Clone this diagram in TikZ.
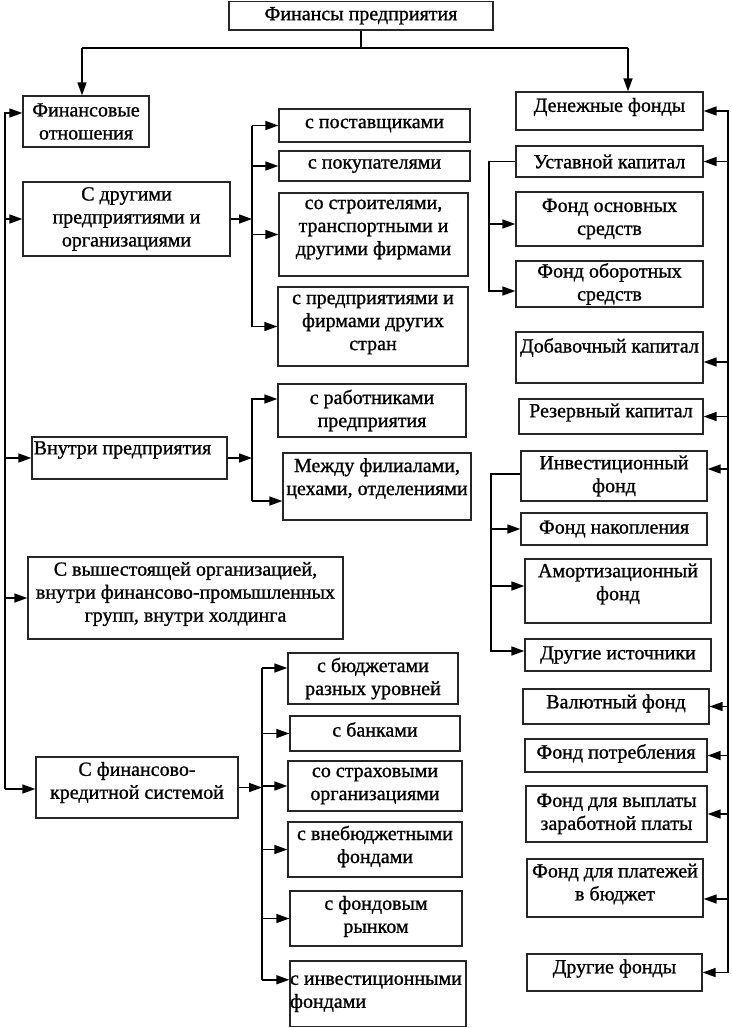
\documentclass[tikz,border=0pt]{standalone}
\usepackage{fontspec}
\setmainfont{Liberation Serif}[FakeBold=1]
\usetikzlibrary{arrows.meta,calc}
\tikzset{
  bxs/.style={draw=black!85, line width=1.3pt, inner sep=0pt},
  txt/.style={font=\fontsize{20}{23}\selectfont, align=center, inner sep=0pt},
  ln/.style={line width=1.6pt},
  arr/.style={ln, -{Triangle[length=13pt,width=9pt]}},
}
% #1 text options, #2 name, #3 x1, #4 y1, #5 x2, #6 y2, #7 text
\newcommand\bx[7][]{%
  \node[bxs,minimum width={#5-#3},minimum height={#6-#4}] (#2) at ({(#3+#5)/2},{(#4+#6)/2}) {};
  \node[txt,#1] at (#2.center) {#7};
}
\begin{document}
\begin{tikzpicture}[x=1pt,y=-1pt]
\fill[white] (0,0) rectangle (731,1028);
\useasboundingbox (0,0) rectangle (731,1028);

% ---------- boxes ----------
\bx{top}{229}{1.5}{493}{30}{Финансы предприятия}
\bx{fo}{23}{96}{149}{147}{Финансовые\\отношения}
\bx{dr}{23}{182}{230}{256}{С другими\\предприятиями и\\организациями}
\bx{p1}{279}{109}{470}{142}{с поставщиками}
\bx{p2}{279}{151}{470}{181}{с покупателями}
\bx[yshift=5pt]{p3}{279}{193}{468}{276}{со строителями,\\транспортными и\\другими фирмами}
\bx[yshift=2pt]{p4}{278}{287}{468}{366}{с предприятиями и\\фирмами других\\стран}
\bx{r1}{278}{384}{466}{437}{с работниками\\предприятия}
\bx[yshift=8pt]{r2}{283}{453}{471}{520}{Между филиалами,\\цехами, отделениями}
\bx[yshift=8pt,xshift=-7pt]{vn}{32}{437}{227}{479}{Внутри предприятия}
\bx[yshift=4pt]{vs}{28}{557}{343}{639}{С вышестоящей организацией,\\внутри финансово-промышленных\\групп, внутри холдинга}
\bx[yshift=5pt]{fk}{36}{757}{238}{818}{С финансово-\\кредитной системой}
\bx{b1}{288}{653}{458}{704}{с бюджетами\\разных уровней}
\bx[yshift=4pt]{b2}{290}{716}{460}{751}{с банками}
\bx{b3}{288}{761}{462}{811}{со страховыми\\организациями}
\bx[yshift=3pt]{b4}{288}{822}{462}{877}{с внебюджетными\\фондами}
\bx[yshift=2pt]{b5}{290}{891}{462}{946}{с фондовым\\рынком}
\bx[align=left,xshift=-2pt]{b6}{290}{961}{466}{1026.5}{с инвестиционными\\фондами}

\bx[yshift=4pt]{df}{516}{92}{703}{130}{Денежные фонды}
\bx{uk}{516}{146}{703}{177}{Уставной капитал}
\bx{fos}{516}{192}{703}{246}{Фонд основных\\средств}
\bx{fob}{516}{261}{703}{307}{Фонд оборотных\\средств}
\bx[yshift=10pt]{dk}{516}{332}{703}{383}{Добавочный капитал}
\bx[yshift=4pt]{rk}{519}{399}{703}{434}{Резервный капитал}
\bx{inv}{521}{451}{707}{501}{Инвестиционный\\фонд}
\bx{fn}{521}{513}{707}{545}{Фонд накопления}
\bx[yshift=7pt]{am}{525}{559}{711}{623}{Амортизационный\\фонд}
\bx{di}{525}{639}{711}{671}{Другие источники}
\bx[yshift=3pt]{vf}{523}{689}{709}{724}{Валютный фонд}
\bx[yshift=2pt]{fp}{525}{739}{707}{772}{Фонд потребления}
\bx{fvz}{526}{786}{707}{842}{Фонд для выплаты\\заработной платы}
\bx[yshift=4pt]{fpb}{527}{859}{703}{917}{Фонд для платежей\\в бюджет}
\bx[yshift=4pt]{drf}{527}{954}{702}{991}{Другие фонды}

% ---------- top split ----------
\coordinate (hL) at (82,48);
\coordinate (hR) at (628,48);
\draw[ln] (top.south) -- (top.south |- hL);
\draw[ln] (hL) -- (hR);
\draw[arr] (hL) -- (hL |- fo.north);
\draw[arr] (hR) -- (hR |- df.north);

% ---------- left spine ----------
\coordinate (sA) at (5,113);
\coordinate (sB) at (5,789);
\draw[arr] (sB) -- (sA) -- (sA -| fo.west);
\draw[arr] (sA |- dr.west) -- (dr.west);
\draw[arr] (sA |- vn.west) -- (vn.west);
\draw[arr] (sA |- vs.west) -- (vs.west);
\draw[arr] (sA |- sB) -- (sB -| fk.west);

% ---------- bus for dr ----------
\coordinate (bA) at (252,0);
\draw[arr] (dr.east) -- (dr.east -| bA);
\draw[ln] (bA |- p1) -- (bA |- p4);
\foreach \n in {p1,p2,p3,p4} \draw[arr] (bA |- \n) -- (\n.west);

% ---------- bus for vn ----------
\coordinate (r1a) at ([yshift=11.5pt]r1.west);
\coordinate (r2a) at ([yshift=-14.5pt]r2.west);
\draw[arr] (vn.east) -- (vn.east -| bA);
\draw[arr] (bA |- r2a) -- (bA |- r1a) -- (r1a);
\draw[arr] (bA |- r2a) -- (r2a);

% ---------- bus for fk ----------
\coordinate (bC) at (262,0);
\coordinate (b1a) at ([yshift=10.5pt]b1.west);
\coordinate (b6a) at ([yshift=14pt]b6.west);
\draw[ln] (bC |- b1a) -- (bC |- b6a);
\draw[arr] (fk.east) -- (fk.east -| bC);
\draw[arr] (bC |- b1a) -- (b1a);
\foreach \n in {b2,b3,b4,b5} \draw[arr] (bC |- \n) -- (\n.west);
\draw[arr] (bC |- b6a) -- (b6a);

% ---------- right spine ----------
\coordinate (sR) at (728,0);
\coordinate (inva) at ([yshift=7pt]inv.east);
\coordinate (dka) at ([yshift=-4.5pt]dk.east);
\coordinate (fpba) at ([yshift=-11pt]fpb.east);
\draw[arr] (sR |- drf) -- (sR |- df) -- (df.east);
\foreach \n in {uk,rk,vf,fp,fvz,drf} \draw[arr] (sR |- \n) -- (\n.east);
\draw[arr] (sR |- inva) -- (inva);
\draw[arr] (sR |- dka) -- (dka);
\draw[arr] (sR |- fpba) -- (fpba);

% ---------- bracket for uk ----------
\coordinate (kU) at (489,0);
\coordinate (fosa) at ([yshift=-5pt]fos.west);
\coordinate (foba) at ([yshift=-7pt]fob.west);
\draw[arr] (uk.west) -- (uk.west -| kU) -- (kU |- foba) -- (foba);
\draw[arr] (kU |- fosa) -- (fosa);

% ---------- bracket for inv ----------
\coordinate (kI) at (491,0);
\coordinate (invb) at ([yshift=2pt]inv.west);
\coordinate (ama) at ([yshift=5pt]am.west);
\coordinate (dia) at ([yshift=4pt]di.west);
\draw[arr] (invb) -- (invb -| kI) -- (kI |- dia) -- (dia);
\draw[arr] (kI |- fn) -- (fn.west);
\draw[arr] (kI |- ama) -- (ama);
\end{tikzpicture}
\end{document}
